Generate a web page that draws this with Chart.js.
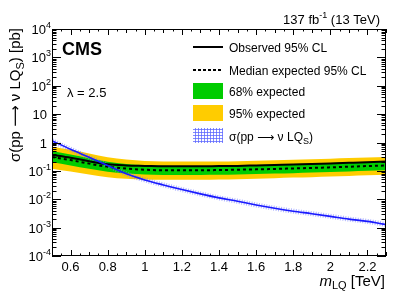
<!DOCTYPE html>
<html><head><meta charset="utf-8">
<script src="https://cdn.jsdelivr.net/npm/chart.js@4/dist/chart.umd.min.js"></script>
<style>html,body{margin:0;padding:0;background:#fff;overflow:hidden}</style>
</head><body>
<canvas id="c" width="407" height="294"></canvas>
<script>
// ---- data ----
const masses   = [0.5,0.6,0.7,0.8,0.9,1.0,1.1,1.2,1.3,1.4,1.5,1.6,1.7,1.8,1.9,2.0,2.1,2.2,2.3];
const observed = [0.37,0.29,0.22,0.17,0.155,0.15,0.145,0.145,0.145,0.148,0.15,0.156,0.162,0.168,0.175,0.183,0.192,0.202,0.215];
const expected = [0.31,0.24,0.18,0.14,0.12,0.11,0.105,0.105,0.105,0.107,0.11,0.113,0.117,0.122,0.127,0.133,0.14,0.148,0.155];
const band68Up = [0.50,0.38,0.28,0.21,0.175,0.16,0.152,0.15,0.15,0.153,0.157,0.162,0.168,0.175,0.183,0.19,0.20,0.21,0.22];
const band68Lo = [0.20,0.155,0.118,0.093,0.081,0.075,0.072,0.072,0.072,0.073,0.075,0.077,0.08,0.083,0.087,0.091,0.096,0.101,0.106];
const band95Up = [0.72,0.55,0.41,0.30,0.25,0.225,0.215,0.212,0.212,0.215,0.22,0.228,0.236,0.246,0.256,0.268,0.282,0.296,0.31];
const band95Lo = [0.12,0.095,0.074,0.060,0.053,0.050,0.049,0.049,0.049,0.050,0.051,0.053,0.055,0.058,0.060,0.063,0.066,0.070,0.073];
const theory   = [1.15,0.575,0.30,0.155,0.079,0.048,0.032,0.022,0.0155,0.0112,0.0085,0.0063,0.0048,0.0038,0.0031,0.0025,0.0020,0.00166,0.00129];
const xTickLabels = ["0.6","0.8","1","1.2","1.4","1.6","1.8","2","2.2"];
const yDecades = [-4,-3,-2,-1,0,1,2,3,4];

const FONT = '"Liberation Sans", Arial, Helvetica, sans-serif';
const AFONT = '"DejaVu Sans", sans-serif';
const pts = arr => masses.map((m,i)=>({x:m,y:arr[i]}));

function richWidth(ctx, parts){
  let w=0; for(const p of parts){ctx.font=p.font; w+=ctx.measureText(p.t).width;} return w;
}
function drawRich(ctx, parts, x, y, align){
  let w = richWidth(ctx, parts);
  let cx = align==='right' ? x-w : (align==='center' ? x-w/2 : x);
  ctx.textAlign='left'; ctx.textBaseline='alphabetic';
  for(const p of parts){ctx.font=p.font; ctx.fillText(p.t, cx, y+(p.dy||0)); cx+=ctx.measureText(p.t).width;}
}

function hatchPattern(ctx){
  const pc=document.createElement('canvas'); pc.width=3; pc.height=3;
  const g=pc.getContext('2d');
  g.fillStyle='#fff'; g.fillRect(0,0,3,3);
  g.fillStyle='rgba(90,100,255,0.75)'; g.fillRect(0,0,3,1); g.fillRect(0,0,1,3);
  return ctx.createPattern(pc,'repeat');
}

const decor = {
  id:'decor',
  afterDraw(chart){
    const ctx=chart.ctx, a=chart.chartArea, xs=chart.scales.x, ys=chart.scales.y;
    ctx.save();
    ctx.strokeStyle='#000'; ctx.fillStyle='#000'; ctx.lineWidth=1;
    // frame
    ctx.strokeRect(a.left+0.5, a.top+0.5, a.right-a.left-1, a.bottom-a.top-1);
    // y ticks (left & right, inward)
    ctx.beginPath();
    for(let d=-4; d<=4; d++){
      for(let k=1;k<=9;k++){
        const v=k*Math.pow(10,d); if(v>1e4) break;
        const py=Math.round(ys.getPixelForValue(v))+0.5;
        const L = k===1 ? 9 : 4.5;
        ctx.moveTo(a.left, py); ctx.lineTo(a.left+L, py);
        ctx.moveTo(a.right, py); ctx.lineTo(a.right-L, py);
      }
    }
    // x ticks (bottom & top)
    for(let i=0;i<=36;i++){
      const m=0.5+i*0.05;
      const px=Math.round(xs.getPixelForValue(m))+0.5;
      const major = (Math.round(m*100)%20===0);
      const L = major?6:(i%2===0?4:2.5);
      ctx.moveTo(px,a.bottom); ctx.lineTo(px,a.bottom-L);
      ctx.moveTo(px,a.top); ctx.lineTo(px,a.top+L);
    }
    ctx.stroke();
    // y tick labels
    for(const d of yDecades){
      const py=ys.getPixelForValue(Math.pow(10,d));
      if(d===0){ drawRich(ctx,[{t:'1',font:'13px '+FONT}],47,py+5,'right'); }
      else if(d===1){ drawRich(ctx,[{t:'10',font:'13px '+FONT}],47,py+5,'right'); }
      else { drawRich(ctx,[{t:'10',font:'13px '+FONT},{t:String(d),font:'9px '+FONT,dy:-6}],51,py+5,'right'); }
    }
    // x tick labels
    ctx.font='13px '+FONT; ctx.textAlign='center'; ctx.textBaseline='alphabetic';
    for(const s of xTickLabels){ ctx.fillText(s, xs.getPixelForValue(parseFloat(s)), 271); }
    // x title
    drawRich(ctx,[{t:'m',font:'italic 15px '+FONT},{t:'LQ',font:'11px '+FONT,dy:3},{t:' [TeV]',font:'15px '+FONT}],385,286,'right');
    // y title (rotated)
    ctx.save(); ctx.translate(20,28); ctx.rotate(-Math.PI/2);
    drawRich(ctx,[{t:'σ(pp ',font:'15px '+FONT},{t:'⟶',font:'15px '+AFONT},{t:' ν LQ',font:'15px '+FONT},{t:'S',font:'11px '+FONT,dy:4},{t:') [pb]',font:'15px '+FONT}],0,0,'right');
    ctx.restore();
    // CMS, lambda, lumi
    drawRich(ctx,[{t:'CMS',font:'bold 18px '+FONT}],62,55,'left');
    drawRich(ctx,[{t:'λ = 2.5',font:'13px '+FONT}],67,97,'left');
    drawRich(ctx,[{t:'137 fb',font:'13px '+FONT},{t:'-1',font:'9px '+FONT,dy:-6},{t:' (13 TeV)',font:'13px '+FONT}],380,24,'right');
    // legend
    const lx0=193, lx1=223, tx=229, lf='12px '+FONT;
    ctx.lineWidth=2; ctx.strokeStyle='#000';
    ctx.beginPath(); ctx.moveTo(lx0,47); ctx.lineTo(lx1,47); ctx.stroke();
    ctx.setLineDash([3,2]);
    ctx.beginPath(); ctx.moveTo(lx0,70); ctx.lineTo(lx1,70); ctx.stroke();
    ctx.setLineDash([]);
    ctx.fillStyle='#00cc00'; ctx.fillRect(lx0,83,lx1-lx0,16);
    ctx.fillStyle='#ffcc00'; ctx.fillRect(lx0,105,lx1-lx0,16);
    ctx.fillStyle=hatchPattern(ctx); ctx.fillRect(lx0,128,lx1-lx0,15);
    ctx.fillStyle='#000';
    drawRich(ctx,[{t:'Observed 95% CL',font:lf}],tx,51.5,'left');
    drawRich(ctx,[{t:'Median expected 95% CL',font:lf}],tx,74.5,'left');
    drawRich(ctx,[{t:'68% expected',font:lf}],tx,95.5,'left');
    drawRich(ctx,[{t:'95% expected',font:lf}],tx,118,'left');
    drawRich(ctx,[{t:'σ(pp ',font:lf},{t:'⟶',font:'12px '+AFONT},{t:' ν LQ',font:lf},{t:'S',font:'9px '+FONT,dy:3.5},{t:')',font:lf}],tx,140.5,'left');
    ctx.restore();
  }
};

const common = {pointRadius:0, pointHoverRadius:0, cubicInterpolationMode:'monotone'};
new Chart(document.getElementById('c'), {
  type:'line',
  data:{datasets:[
    {...common, data:pts(band95Up), fill:'+1', backgroundColor:'#ffcc00', borderWidth:0, borderColor:'rgba(0,0,0,0)', order:10},
    {...common, data:pts(band95Lo), fill:false, borderWidth:0, borderColor:'rgba(0,0,0,0)', order:9},
    {...common, data:pts(band68Up), fill:'+1', backgroundColor:'#00cc00', borderWidth:0, borderColor:'rgba(0,0,0,0)', order:8},
    {...common, data:pts(band68Lo), fill:false, borderWidth:0, borderColor:'rgba(0,0,0,0)', order:7},
    {...common, data:pts(theory), fill:false, borderWidth:5, borderColor:'rgba(110,120,255,0.55)', borderDash:[1,1.5], order:6},
    {...common, data:pts(expected), fill:false, borderWidth:2, borderColor:'#000', borderDash:[3,3], order:4},
    {...common, data:pts(observed), fill:false, borderWidth:2, borderColor:'#000', order:3},
    {...common, data:pts(theory), fill:false, borderWidth:1.6, borderColor:'#1a1aff', order:2}
  ]},
  options:{
    responsive:false, animation:false, devicePixelRatio:1,
    layout:{padding:{left:52, right:21, top:29, bottom:38}},
    plugins:{legend:{display:false}, tooltip:{enabled:false}},
    events:[],
    scales:{
      x:{type:'linear', min:0.5, max:2.3, display:false},
      y:{type:'logarithmic', min:1e-4, max:1e4, display:false}
    }
  },
  plugins:[decor]
});
</script>
</body></html>
